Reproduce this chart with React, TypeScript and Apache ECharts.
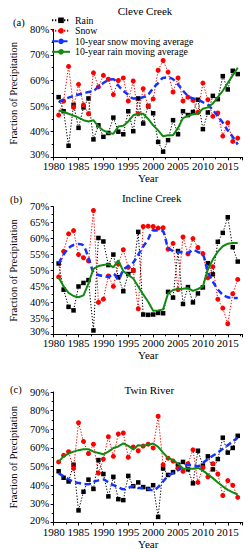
import React, { useEffect, useRef } from "react";
import * as echarts from "echarts";

const years = [1981,1982,1983,1984,1985,1986,1987,1988,1989,1990,1991,1992,1993,1994,1995,1996,1997,1998,1999,2000,2001,2002,2003,2004,2005,2006,2007,2008,2009,2010,2011,2012,2013,2014,2015,2016,2017];

// Panel (a) Cleve Creek
const rainA = [53.5,48,34.5,50.5,41.5,49.5,53,37,42.5,38,39.5,45.5,40,39,48,40.2,53,43.2,50,47.2,36,32.2,36.7,44.5,39,48,46.5,47.7,52.5,41,47.5,54,52.7,61.7,56.5,63.8,62.5];
const snowA = [46.5,52,65.5,49.5,58.5,50.5,47,63,57.5,62,60.5,54.5,60,61,52,59.8,47,56.8,50,52.8,64,67.8,63.3,55.5,61,52,53.5,52.3,47.5,59,52.5,46,47.3,38.3,43.5,36.2,37.5];
const snowMaA = [51.5,52.5,53.3,54,54.5,55,55.5,56,57.5,59,60.2,60.5,58,56,54.5,53,53,53.5,54.5,57,59,61,61.2,60.5,58.5,56,54,53,52.5,51.5,50.5,48.5,46,43.5,40.5,38,35];
const rainMaA = [48.3,47.8,47,46.3,45.5,44.5,44,44.5,42,40.5,39.5,39.2,42,42.3,44,46.4,47,47,45,42.5,40.5,38.2,38.6,38.6,41.5,45.3,46.2,46.8,47,49,49.5,51,53.5,56,59,62,65];

// Panel (b) Incline Creek
const rainB = [52.2,44,38.6,37.5,45,46.1,47,31.2,60.2,59.1,51.7,55,47.9,43.5,48.9,50,62.1,36.2,36.1,36.2,36.7,36.6,43.3,41.5,56.1,39.5,44.8,40,42.8,44.7,52.3,48.8,59,61.8,66.7,57.3,52.8];
const snowB = [48,56,61.5,62.5,55,54,53,68.8,40,41,48.3,45,52,56.5,51,50,38,63.8,63.9,63.8,63.3,63.4,56.7,58.5,44,60.5,55.2,60,57.2,55.3,47.7,51.2,41,38.2,33.3,42.7,47.2];
const snowMaB = [52.2,55,57,58,58.3,57.8,54,49.5,48.6,48.3,48,49,47.3,50.2,51.4,52.5,55,57.5,59.8,62.6,62.5,62.2,57.2,56.1,55.8,55.7,55.5,56.4,55.8,55,49.7,46.5,44.1,42.4,41.6,41.4,41.4];
const rainMaB = [47.9,45,43,42,41.6,42.2,46,50.5,51.4,51.7,52,51,53.2,49.8,48.6,47.5,45,42.5,40.2,37.4,37.5,37.8,42.8,43.9,44.2,44.3,44.5,43.6,44.2,45,50.3,53.5,55.9,57.6,58.4,58.6,58.6];

// Panel (c) Twin River
const rainC = [47.5,44,42,51,26.5,36.5,43,38,53.5,46,34,44.5,32.5,32,45,39.5,41.5,39,38,40,23,49,45.5,47,51,52.5,48.5,41,58.5,50.5,55.5,48.5,54,65.5,57.5,60,66.5];
const snowC = [52.5,56,58,49,73.5,63.5,57,62,46.5,54,66,55.5,67.5,68,55,60.5,58.5,61,62,60,77,51,54.5,53,49,47.5,51.5,59,41.5,49.5,44.5,51.5,46,34.5,42.5,40,33.5];
const snowMaC = [46.5,44.8,43.2,41.8,41.2,40.7,40.5,41.8,42.6,43,41.5,40,39,37.8,38.5,39.6,38.5,38.5,38,37.2,39,42,45,46.5,48,50,50.8,50.6,50.2,52,54,55.8,57.5,59.5,61.5,63.5,65.5];
const rainMaC = [52.5,55.5,57,58,58.8,59.3,59.3,58,57.3,56.6,58,60,60.8,62.4,61.1,59.2,61.5,61.2,61.7,62.4,60.6,57.5,54.5,53.5,51.5,49,48.8,48.8,49.4,47.8,45.8,43.8,41.5,39.4,37.5,36.2,35];

const panelTitles = ["Cleve Creek", "Incline Creek", "Twin River"];
const panelLetters = ["(a)", "(b)", "(c)"];
const yMins = [30, 30, 20];
const yMaxs = [80, 70, 90];
const yIntervals = [10, 5, 10];
const seriesNames = ["Rain", "Snow", "10-year snow moving average", "10-year rain moving average"];

const FONT = "'Liberation Serif', 'Times New Roman', serif";

const pairs = (vals: number[]) => years.map((y, i) => [y, vals[i]]);

export default function App() {
  const ref = useRef<HTMLDivElement>(null);
  useEffect(() => {
    if (!ref.current) return;
    const chart = echarts.init(ref.current, null, { renderer: "svg" });
    const grids = [
      { left: 47, top: 29.3, width: 195.7, height: 128 },
      { left: 47, top: 206.7, width: 195.7, height: 127.6 },
      { left: 47, top: 392, width: 195.7, height: 132 },
    ];
    const panelData = [
      [rainA, snowA, snowMaA, rainMaA],
      [rainB, snowB, snowMaB, rainMaB],
      [rainC, snowC, snowMaC, rainMaC],
    ];
    const series: any[] = [];
    panelData.forEach((pd, gi) => {
      series.push({
        name: seriesNames[0], type: "line", xAxisIndex: gi, yAxisIndex: gi,
        data: pairs(pd[0]), symbol: "rect", symbolSize: 4.5,
        itemStyle: { color: "#000" },
        lineStyle: { color: "#000", width: 1, type: [1.3, 1.7] },
        z: 2,
      });
      series.push({
        name: seriesNames[1], type: "line", xAxisIndex: gi, yAxisIndex: gi,
        data: pairs(pd[1]), symbol: "circle", symbolSize: 5,
        itemStyle: { color: "#ff0000" },
        lineStyle: { color: "#ff0000", width: 1, type: [1.3, 1.7] },
        z: 3,
      });
      series.push({
        name: seriesNames[2], type: "line", xAxisIndex: gi, yAxisIndex: gi,
        data: pairs(pd[2]), symbol: "none", smooth: 0.3,
        lineStyle: { color: "#1432ff", width: 2.5, type: [6, 3.5] },
        itemStyle: { color: "#1432ff" },
        z: 4,
      });
      series.push({
        name: seriesNames[3], type: "line", xAxisIndex: gi, yAxisIndex: gi,
        data: pairs(pd[3]), symbol: "none",
        lineStyle: { color: "#118a11", width: 2 },
        itemStyle: { color: "#118a11" },
        z: 5,
      });
    });

    const xAxis = grids.map((_, gi) => ({
      type: "value", gridIndex: gi, min: 1980, max: 2018, interval: 5,
      name: "Year", nameLocation: "middle", nameGap: 15.5,
      nameTextStyle: { fontFamily: FONT, fontSize: 11, color: "#000" },
      axisLine: { show: true, lineStyle: { color: "#000", width: 1 } },
      axisTick: { show: true, length: 3, lineStyle: { color: "#000" } },
      minorTick: { show: true, splitNumber: 2, length: 2, lineStyle: { color: "#000" } },
      splitLine: { show: false },
      axisLabel: {
        fontFamily: FONT, fontSize: 11, color: "#000", margin: 3.5, lineHeight: 11,
        formatter: (v: number) => (v % 5 === 0 ? String(v) : ""),
      },
    }));
    const yAxis = grids.map((_, gi) => ({
      type: "value", gridIndex: gi, min: yMins[gi], max: yMaxs[gi], interval: yIntervals[gi],
      name: "Fraction of Precipitation", nameLocation: "middle", nameGap: 28,
      nameTextStyle: { fontFamily: FONT, fontSize: 10.5, color: "#000" },
      axisLine: { show: true, lineStyle: { color: "#000", width: 1 } },
      axisTick: { show: true, length: 3, lineStyle: { color: "#000" } },
      minorTick: { show: true, splitNumber: 2, length: 2, lineStyle: { color: "#000" } },
      splitLine: { show: false },
      axisLabel: {
        fontFamily: FONT, fontSize: 10.5, color: "#000", margin: 4.5, lineHeight: 10.5,
        formatter: (v: number) => (v === yMins[gi] ? `{lo|${v}%}` : `${v}%`),
        rich: { lo: { fontFamily: FONT, fontSize: 10.5, color: "#000", lineHeight: 10.5, padding: [0, 0, 5, 0] } },
      },
    }));

    const titlePos = [
      { x: 145, y: 10.7 },
      { x: 151.7, y: 198.3 },
      { x: 149.3, y: 390 },
    ];
    const letterPos = [
      { x: 13, y: 22.7 },
      { x: 10, y: 199 },
      { x: 10, y: 389 },
    ];
    const graphic: any[] = [];
    titlePos.forEach((p, i) => {
      graphic.push({
        type: "text", x: p.x, y: p.y,
        style: { text: panelTitles[i], fontFamily: FONT, fontSize: 11, fill: "#000", align: "center", verticalAlign: "middle" },
      });
      graphic.push({
        type: "text", x: letterPos[i].x, y: letterPos[i].y,
        style: { text: panelLetters[i], fontFamily: FONT, fontSize: 10.5, fill: "#000", align: "left", verticalAlign: "middle" },
      });
    });

    chart.setOption({
      animation: false,
      backgroundColor: "#fff",
      grid: grids,
      xAxis,
      yAxis,
      series,
      graphic,
      legend: {
        orient: "vertical", left: 51, top: 15.3, padding: 0,
        itemWidth: 18, itemHeight: 7, itemGap: 0.5,
        data: seriesNames,
        selectedMode: false,
        textStyle: { fontFamily: FONT, fontSize: 9.8, color: "#000", lineHeight: 10 },
      },
    });
    return () => chart.dispose();
  }, []);
  return (
    <div
      ref={ref}
      style={{ position: "fixed", left: 0, top: 0, width: 247, height: 550, background: "#fff" }}
    />
  );
}
